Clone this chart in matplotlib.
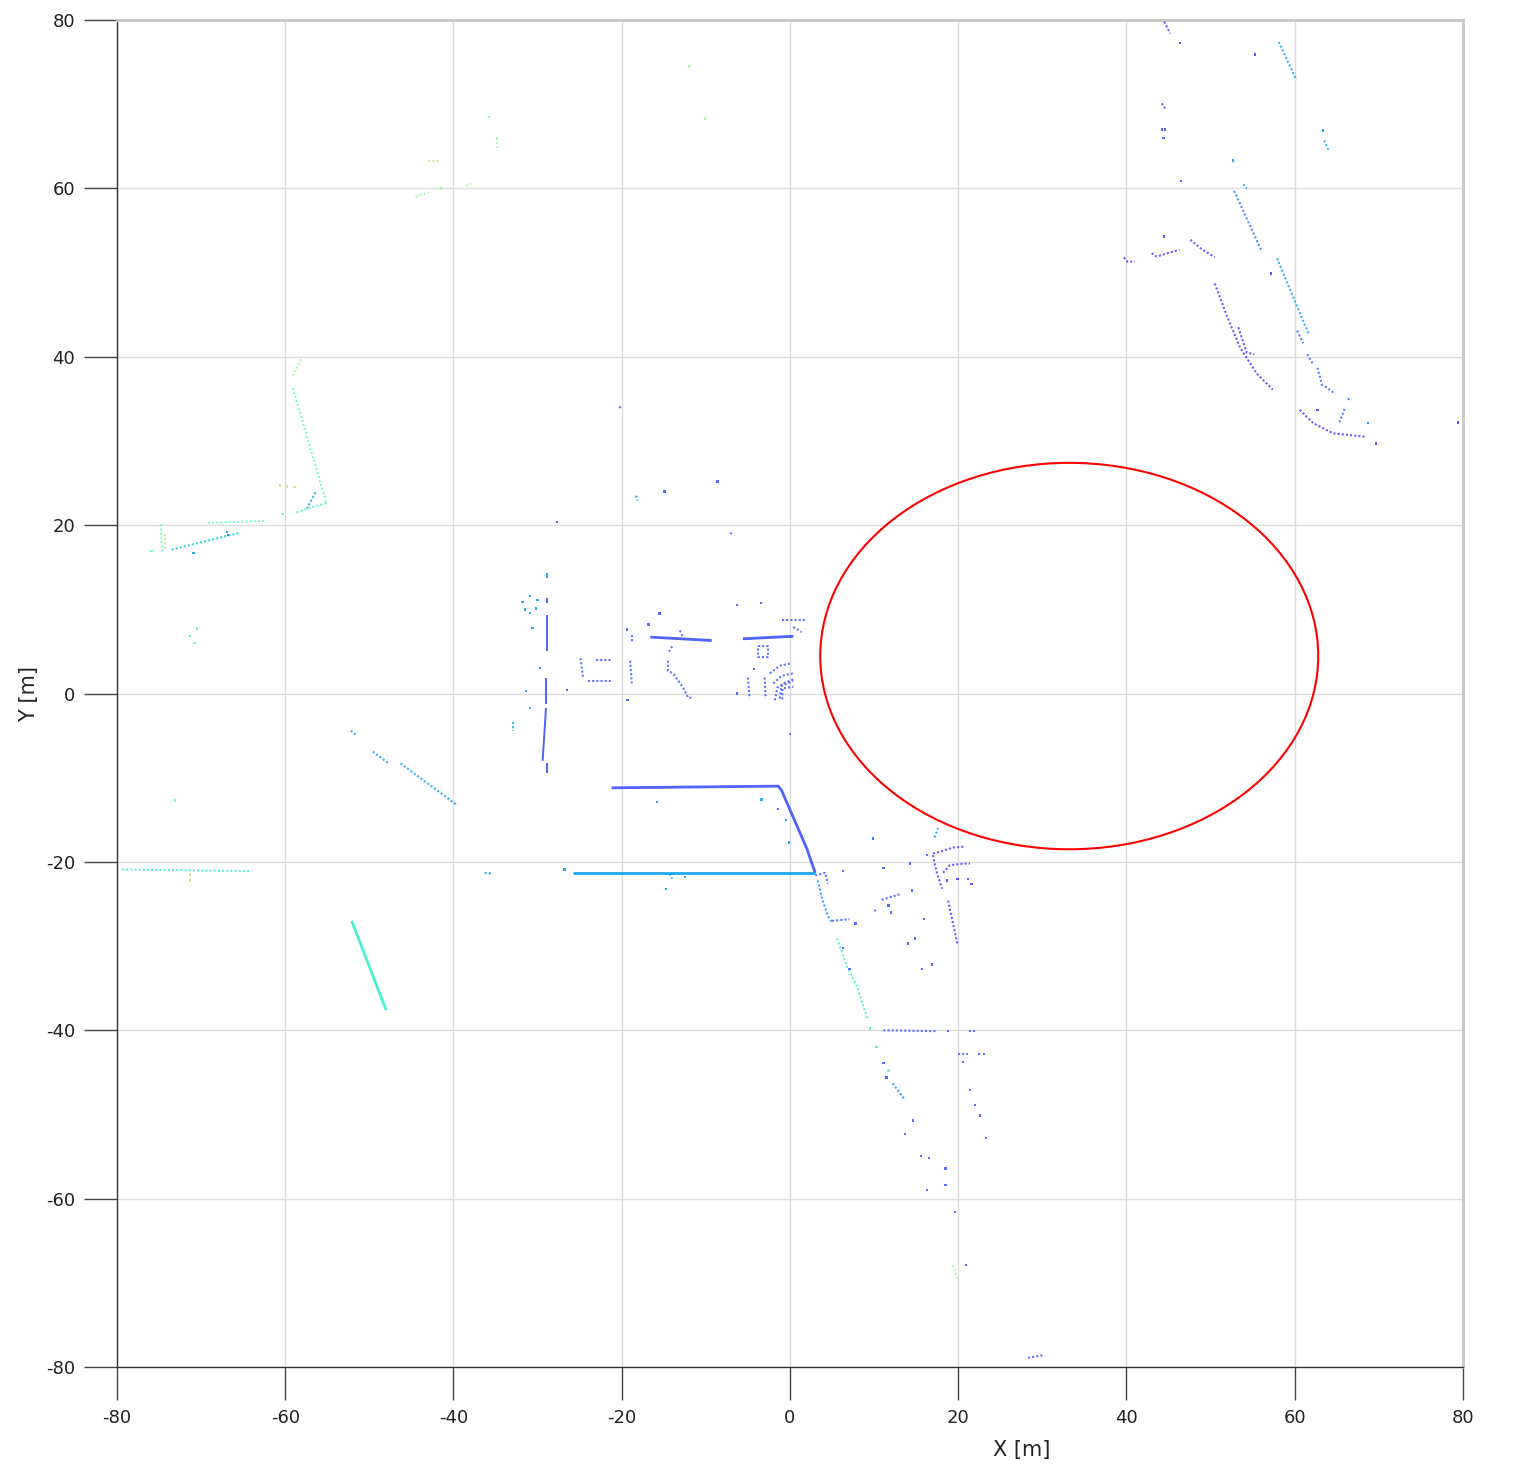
import numpy as np
import matplotlib
matplotlib.use('Agg')
import matplotlib.pyplot as plt
from matplotlib.patches import Ellipse

plt.rcParams['axes.unicode_minus'] = False

# height value of each trace (0..1 on the rainbow colormap)
BLUE = 0.12
PURPLE = 0.07
LBLUE = 0.22
TEAL = 0.38
GREEN = 0.46
YGREEN = 0.56
YELLOW = 0.64

# dense walls: (xs, ys, height)
dense_lines = [
    ([-21.2, -1.4, -1.0, 2.0, 3.0], [-11.2, -11.0, -11.5, -18.4, -21.3], BLUE),
    ([-25.8, 3.0], [-21.3, -21.3], LBLUE),
    ([-16.6, -9.3], [6.7, 6.3], BLUE),
    ([-5.6, 0.4], [6.5, 6.8], BLUE),
    ([-52.1, -48.0], [-27.0, -37.6], TEAL),
]

# thin solid traces
thin_lines = [
    ([-28.85, -28.85], [9.3, 5.1], BLUE),
    ([-29.0, -29.0], [1.8, -1.2], BLUE),
    ([-29.0, -29.4], [-1.7, -8.0], BLUE),
    ([-28.9, -28.9], [-8.2, -9.4], BLUE),
    ([-28.9, -28.9], [14.3, 13.7], LBLUE),
    ([-28.9, -28.9], [11.3, 10.7], BLUE),
]

# sparse traces
sparse_lines = [
    # top right
    ([44.5, 45.2], [79.8, 78.4], PURPLE),
    ([58.1, 60.2], [77.4, 72.9], LBLUE),
    ([44.2, 44.6], [70.1, 69.5], PURPLE),
    ([63.5, 64.0], [65.7, 64.6], LBLUE),
    ([53.9, 54.3], [60.5, 60.0], LBLUE),
    ([52.8, 56.1], [59.7, 52.5], 0.16),
    ([39.7, 40.1, 41.0], [51.8, 51.3, 51.3], PURPLE),
    ([43.0, 43.6, 45.2, 46.3], [52.3, 51.9, 52.4, 52.7], PURPLE),
    ([47.6, 48.8, 50.5], [53.9, 52.9, 51.8], PURPLE),
    ([57.9, 61.7], [51.7, 42.6], LBLUE),
    ([50.5, 52.0, 53.5, 55.5, 57.4], [48.7, 44.7, 41.1, 38.0, 36.1], PURPLE),
    ([53.3, 54.3, 55.2], [43.5, 40.5, 40.3], PURPLE),
    ([60.3, 61.0], [43.1, 41.6], 0.14),
    ([61.5, 62.2], [40.3, 39.1], 0.14),
    ([62.7, 63.3], [38.7, 36.5], 0.14),
    ([63.6, 64.8], [36.5, 35.6], 0.14),
    ([66.3, 66.8], [35.0, 34.9], 0.14),
    ([65.3, 66.0], [32.2, 34.0], 0.14),
    ([60.6, 62.2, 64.6, 68.4], [33.7, 32.1, 30.9, 30.5], PURPLE),
    # top left, far points
    ([-43.0, -41.6], [63.3, 63.3], YELLOW),
    ([-44.5, -43.0], [59.0, 59.5], YGREEN),
    ([-38.5, -37.9], [60.3, 60.6], YGREEN),
    ([-34.8, -34.8], [66.0, 64.8], YGREEN),
    # left corner
    ([-58.1, -59.3], [39.7, 37.5], YGREEN),
    ([-59.1, -55.1], [36.3, 22.6], GREEN),
    ([-56.4, -57.4], [23.9, 22.0], LBLUE),
    ([-55.1, -57.3, -58.7], [22.6, 22.0, 21.5], TEAL),
    ([-69.2, -62.5], [20.3, 20.5], GREEN),
    ([-74.8, -74.6], [20.1, 16.7], GREEN),
    ([-74.3, -74.3], [18.9, 17.0], YELLOW),
    ([-73.5, -65.4], [17.1, 19.1], 0.30),
    ([-79.4, -64.0], [-20.9, -21.1], TEAL),
    # diagonal left
    ([-52.2, -51.6], [-4.4, -4.9], LBLUE),
    ([-49.6, -47.7], [-6.9, -8.3], LBLUE),
    ([-46.3, -39.5], [-8.3, -13.3], LBLUE),
    # central blocks
    ([-32.9, -32.9], [-3.4, -4.4], 0.25),
    ([-24.9, -24.6], [4.2, 1.9], BLUE),
    ([-24.0, -21.0], [1.5, 1.5], BLUE),
    ([-23.0, -21.2], [4.0, 4.0], BLUE),
    ([-18.8, -18.8], [6.9, 6.1], BLUE),
    ([-19.0, -18.8], [3.9, 1.2], BLUE),
    ([-13.1, -12.7], [7.5, 6.7], BLUE),
    ([-14.0, -14.5], [5.6, 4.8], BLUE),
    ([-14.5, -14.5, -13.9, -12.7, -12.1, -11.5], [3.9, 2.7, 2.4, 0.7, -0.5, -0.5], BLUE),
    ([-3.6, -3.2], [10.7, 10.7], BLUE),
    ([-1.0, 1.8], [8.7, 8.7], BLUE),
    ([0.4, 1.4], [7.9, 7.3], BLUE),
    ([-3.8, -2.6, -2.6, -3.8, -3.8], [5.7, 5.7, 4.3, 4.3, 5.7], BLUE),
    ([-2.4, -1.2, 0.2], [2.4, 3.3, 3.6], BLUE),
    ([-2.0, -1.0, 0.4], [1.2, 2.1, 2.4], BLUE),
    ([-1.8, -1.5, 0.4], [-0.8, 0.7, 1.5], BLUE),
    ([-1.2, -1.0, 0.4], [-0.6, 1.1, 1.7], BLUE),
    ([-0.9, -0.9, 0.4], [-0.7, 0.6, 0.8], BLUE),
    ([-5.0, -4.8], [1.9, -0.6], BLUE),
    ([-3.0, -2.9], [1.9, -0.6], BLUE),
    ([-36.3, -35.3], [-21.3, -21.4], LBLUE),
    ([-14.3, -14.0], [-21.4, -22.0], LBLUE),
    ([3.0, 4.2, 4.5], [-21.6, -21.3, -22.6], BLUE),
    # south-east
    ([3.3, 3.8, 4.5, 5.0], [-22.2, -24.3, -26.4, -27.2], 0.18),
    ([5.0, 7.1], [-27.0, -26.8], BLUE),
    ([5.6, 6.8, 8.0, 9.2], [-29.1, -32.5, -34.9, -38.6], TEAL),
    ([11.1, 17.5], [-40.0, -40.1], BLUE),
    ([20.0, 21.2], [-42.8, -42.8], BLUE),
    ([17.2, 17.6], [-17.1, -16.0], LBLUE),
    ([17.0, 17.8, 19.4, 20.6], [-19.0, -18.8, -18.3, -18.2], PURPLE),
    ([17.0, 17.2, 17.5, 18.1], [-19.2, -20.2, -21.4, -23.2], PURPLE),
    ([18.2, 19.0, 20.6, 21.4], [-21.3, -20.4, -20.2, -20.2], PURPLE),
    ([18.8, 19.9], [-24.6, -29.7], PURPLE),
    ([10.9, 13.2], [-24.5, -23.8], BLUE),
    ([10.0, 10.5], [-25.8, -25.7], BLUE),
    ([12.2, 13.7], [-46.3, -48.3], 0.20),
    ([19.4, 19.9], [-67.9, -69.5], YGREEN),
    ([28.3, 30.0], [-78.9, -78.6], BLUE),
    ([-20.3, -20.1], [34.1, 33.9], BLUE),
    ([-18.3, -18.1], [23.5, 22.9], LBLUE),
    ([-7.1, -6.8], [19.1, 18.9], BLUE),
]

# isolated returns: (x, y, height)
points = [
    (46.4, 77.3, PURPLE), (55.3, 75.9, PURPLE), (44.2, 67.0, BLUE), (44.6, 67.0, BLUE),
    (44.4, 66.0, BLUE), (63.4, 66.9, LBLUE), (52.7, 63.3, LBLUE), (46.5, 60.9, PURPLE),
    (44.5, 54.3, PURPLE), (57.2, 49.9, PURPLE), (62.7, 33.7, PURPLE), (68.7, 32.1, 0.18),
    (69.7, 29.7, PURPLE), (79.4, 32.2, PURPLE),
    (-35.8, 68.5, YGREEN), (-34.8, 66.0, YGREEN), (-12.0, 74.5, YGREEN), (-10.1, 68.3, YGREEN),
    (-41.5, 60.0, YGREEN),
    (-60.3, 21.3, GREEN), (-60.6, 24.7, YELLOW), (-59.8, 24.6, YELLOW), (-58.9, 24.5, YELLOW),
    (-75.9, 16.9, GREEN), (-66.9, 19.2, LBLUE), (-66.8, 18.8, LBLUE), (-70.9, 16.7, LBLUE),
    (-70.5, 7.7, GREEN), (-71.3, 6.8, TEAL), (-70.8, 6.0, GREEN), (-73.1, -12.7, GREEN),
    (-71.3, -22.2, YELLOW), (-71.3, -21.5, YELLOW),
    (-30.9, 11.6, LBLUE), (-31.8, 10.9, LBLUE), (-30.2, 10.1, LBLUE), (-31.5, 10.0, LBLUE),
    (-30.0, 11.1, LBLUE), (-30.9, 9.6, LBLUE), (-30.6, 7.8, 0.25), (-30.9, -1.7, 0.25),
    (-31.4, 0.3, LBLUE), (-29.7, 3.0, LBLUE), (-26.5, 0.4, BLUE),
    (-19.4, 7.6, BLUE), (-19.3, -0.8, BLUE), (-15.5, 9.5, BLUE), (-16.8, 8.2, BLUE),
    (-6.3, 10.5, BLUE), (-6.3, 0.0, BLUE), (0.0, -4.8, BLUE), (-4.3, 2.9, BLUE),
    (-15.8, -12.9, LBLUE), (-3.4, -12.6, LBLUE), (-1.4, -13.7, BLUE), (-0.5, -15.0, LBLUE),
    (-0.1, -17.7, LBLUE), (-26.8, -20.9, LBLUE), (-14.7, -23.2, LBLUE), (-12.5, -21.8, LBLUE),
    (-27.7, 20.4, BLUE), (-14.9, 24.0, BLUE), (-8.6, 25.2, BLUE),
    (9.9, -17.2, BLUE), (6.3, -21.1, BLUE), (7.8, -27.3, BLUE), (9.5, -39.8, TEAL),
    (18.8, -40.1, BLUE), (21.4, -40.1, BLUE), (21.9, -40.1, BLUE), (22.5, -42.8, BLUE),
    (23.1, -42.8, BLUE), (10.3, -42.0, TEAL), (11.1, -43.9, BLUE), (11.7, -44.8, GREEN),
    (11.5, -45.6, BLUE), (18.7, -22.2, PURPLE), (19.9, -22.0, PURPLE), (21.6, -22.6, PURPLE),
    (21.2, -22.0, PURPLE), (11.7, -25.2, BLUE), (12.0, -26.0, BLUE), (14.3, -20.2, BLUE),
    (16.3, -19.2, BLUE), (14.5, -23.4, BLUE), (15.9, -26.8, BLUE), (14.9, -29.1, BLUE),
    (14.0, -29.7, BLUE), (15.7, -32.7, BLUE), (16.9, -32.2, BLUE), (11.1, -20.7, BLUE),
    (6.3, -30.2, BLUE), (7.1, -32.7, BLUE),
    (13.7, -52.3, BLUE), (14.6, -50.7, BLUE), (15.6, -54.9, BLUE), (16.5, -55.2, BLUE),
    (18.5, -56.4, BLUE), (16.3, -59.0, BLUE), (18.5, -58.4, BLUE), (19.6, -61.6, BLUE),
    (20.6, -43.8, BLUE), (21.4, -47.1, BLUE), (22.0, -48.9, BLUE), (22.6, -50.1, BLUE),
    (23.3, -52.8, BLUE), (20.9, -67.9, BLUE),
]

# red ellipse marking the empty region
ell_center = (33.2, 4.45)
ell_width = 59.2
ell_height = 45.9

cmap = plt.get_cmap('rainbow')

fig = plt.figure(figsize=(15.25, 14.83), dpi=100)
ax = fig.add_axes([0.0767, 0.0782, 0.8826, 0.9083])

for xs, ys, h in dense_lines:
    ax.plot(xs, ys, color=cmap(h), lw=2.0, alpha=0.95, solid_capstyle='butt', zorder=3)

for xs, ys, h in thin_lines:
    ax.plot(xs, ys, color=cmap(h), lw=1.4, alpha=0.95, solid_capstyle='butt', zorder=3)

for xs, ys, h in sparse_lines:
    ax.plot(xs, ys, color=cmap(h), lw=1.5, ls=(0, (1, 1.0)), alpha=0.85, zorder=3)

px = [p[0] for p in points]
py = [p[1] for p in points]
pc = [cmap(p[2]) for p in points]
ax.scatter(px, py, s=3, c=pc, marker='s', linewidths=0, alpha=0.9, zorder=3)

ax.add_patch(Ellipse(ell_center, ell_width, ell_height, fill=False,
                     edgecolor='red', lw=1.5, zorder=4))

ax.set_xlim(-80, 80)
ax.set_ylim(-80, 80)
ax.set_xticks(np.arange(-80, 81, 20))
ax.set_yticks(np.arange(-80, 81, 20))
ax.grid(True, color='#dcdcdc', lw=1)
ax.set_axisbelow(True)

for s in ['left', 'bottom']:
    ax.spines[s].set_color('#333333')
    ax.spines[s].set_linewidth(1)
for s in ['top', 'right']:
    ax.spines[s].set_color('#c8c8c8')
    ax.spines[s].set_linewidth(2)

ax.tick_params(axis='both', direction='out', length=24, width=1, color='#444444',
               labelsize=13, labelcolor='#222222', pad=6)

ax.set_xlabel('X [m]', fontsize=15, color='#222222')
ax.set_ylabel('Y [m]', fontsize=15, color='#222222')
ax.xaxis.set_label_coords(0.672, -0.054)
ax.yaxis.set_label_coords(-0.058, 0.5)

fig.savefig('out.png', dpi=100)
